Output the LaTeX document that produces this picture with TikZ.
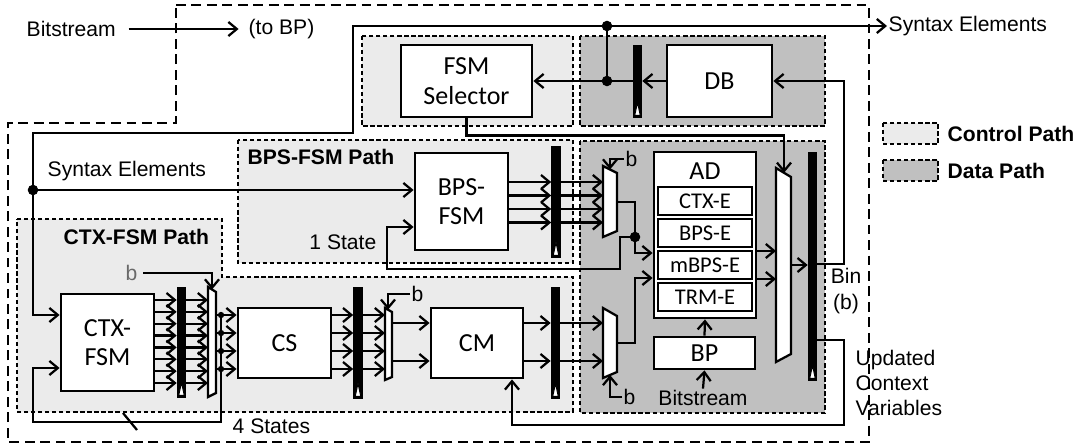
\documentclass[tikz,border=0pt]{standalone}
\usepackage{fontspec}
\setmainfont{Liberation Sans}
\newfontfamily\boxfont{Carlito}
\usetikzlibrary{arrows.meta}
\definecolor{ctrlgray}{RGB}{235,235,235}
\definecolor{datagray}{RGB}{192,192,192}
\definecolor{bgray}{RGB}{105,105,105}

\begin{document}
\begin{tikzpicture}[x=0.025cm, y=-0.025cm,
    >={Straight Barb[length=6pt,width=10pt]},
    wire/.style={line width=1.6pt},
    blk/.style={draw, line width=2pt, fill=white, inner sep=0pt, align=center, font=\boxfont\fontsize{18.5}{21}\selectfont},
    subblk/.style={draw, line width=1.5pt, fill=white, inner sep=0pt, minimum width=2.35cm, minimum height=0.7cm, font=\boxfont\fontsize{16}{18}\selectfont},
    regbar/.style={draw, fill=black, line width=0.6pt, inner sep=0pt, minimum width=0.22cm},
    clk/.style={draw, fill=white, line width=0.7pt},
    muxshape/.style={draw, fill=white, line width=1.6pt, line join=miter},
    jdot/.style={circle, fill=black, inner sep=0pt, minimum size=#1},
    jdot/.default=7.5pt,
    ctrlreg/.style={draw, fill=ctrlgray, line width=1pt, dash pattern=on 3pt off 2pt},
    datareg/.style={draw, fill=datagray, line width=1pt, dash pattern=on 3pt off 2pt},
    bigdash/.style={draw, line width=1.6pt, dash pattern=on 7pt off 4pt},
    lbl/.style={inner sep=1pt, font=\fontsize{15}{18}\selectfont},
    hdr/.style={inner sep=1pt, font=\bfseries\fontsize{15}{18}\selectfont},
  ]
  \useasboundingbox (0,0) rectangle (1081,447);

  % regions
  \draw[ctrlreg] (362,36) rectangle (573,126);
  \draw[datareg] (580,36) rectangle (825,126);
  \draw[ctrlreg] (238,140) rectangle (573,263);
  \draw[ctrlreg] (17,219) -- (222,219) -- (222,277) -- (573,277) -- (573,412) -- (17,412) -- cycle;
  \draw[datareg] (580,141) rectangle (825,413);
  \draw[bigdash] (176,5) -- (869,5) -- (869,442) -- (8,442) -- (8,123) -- (176,123) -- cycle;

  \node[hdr, anchor=west] (bpshdr) at (246,157) {BPS-FSM Path};
  \node[hdr, anchor=west] (ctxhdr) at (62,237) {CTX-FSM Path};

  % blocks
  \node[blk, minimum width=3.275cm, minimum height=1.8cm] (fsmsel) at (466.5,81) {FSM\\Selector};
  \node[blk, minimum width=2.625cm, minimum height=1.8cm] (db) at (719.5,81) {DB};
  \node[blk, minimum width=2.325cm, minimum height=2.425cm] (bpsfsm) at (461.5,201.5) {BPS-\\FSM};
  \node[blk, minimum width=2.325cm, minimum height=2.425cm] (ctxfsm) at (107.5,342.5) {CTX-\\FSM};
  \node[blk, minimum width=2.325cm, minimum height=1.75cm] (cs) at (284.5,343) {CS};
  \node[blk, minimum width=2.3cm, minimum height=1.75cm] (cm) at (477,343) {CM};
  \node[blk, minimum width=2.55cm, minimum height=4.15cm] (ad) at (705,235) {};
  \node[inner sep=0pt, font=\boxfont\fontsize{18.5}{21}\selectfont] (adlbl) at (705,171) {AD};
  \foreach \n/\t/\y in {ctxe/CTX-E/201, bpse/BPS-E/233, mbpse/mBPS-E/265, trme/TRM-E/297}
    \node[subblk] (\n) at (705,\y) {\t};
  \node[blk, minimum width=2.525cm, minimum height=0.8cm] (bp) at (704.5,353) {BP};

  % registers
  \node[regbar, minimum height=1.8cm] (ureg) at (637.5,81) {};
  \node[regbar, minimum height=2.775cm] (bpsreg) at (556,201.5) {};
  \node[regbar, minimum height=2.75cm] (ctxreg) at (181.5,342) {};
  \node[regbar, minimum height=2.775cm] (csreg) at (358,342.5) {};
  \node[regbar, minimum height=2.775cm] (cmreg) at (555.5,342.5) {};
  \node[regbar, minimum height=5.7cm] (binreg) at (812.5,266) {};
  \foreach \r in {ureg,bpsreg,ctxreg,csreg,cmreg,binreg}
    \draw[clk] ([shift={(-2.8,-2)}]\r.south) -- ([shift={(0,-15)}]\r.south) -- ([shift={(2.8,-2)}]\r.south) -- cycle;

  % muxes
  \draw[muxshape] (603,166) -- (617,173) -- (617,231) -- (603,237) -- cycle;
  \coordinate (bpsmux) at (603,202); \coordinate (bpsmuxo) at (617,202);
  \draw[muxshape] (603,308) -- (617,316) -- (617,372) -- (603,378) -- cycle;
  \coordinate (cmmux) at (603,343); \coordinate (cmmuxo) at (617,343);
  \draw[muxshape] (776,168) -- (791,177) -- (791,354) -- (776,362) -- cycle;
  \coordinate (binmux) at (776,265); \coordinate (binmuxo) at (791,265);
  \draw[muxshape] (208,287) -- (216,292) -- (216,393) -- (208,397) -- cycle;
  \coordinate (ctxmux) at (208,342); \coordinate (ctxmuxo) at (216,342);
  \draw[muxshape] (385,308) -- (392,312) -- (392,377) -- (385,380) -- cycle;
  \coordinate (csmux) at (385,344); \coordinate (csmuxo) at (392,344);

  % top signals
  \node[lbl, anchor=west] (bsin) at (25,29) {Bitstream};
  \node[lbl, anchor=west] (tobp) at (247,29) {(to BP)};
  \draw[wire,->] ([xshift=8pt]bsin.east) -- ([xshift=-6pt]tobp.west);
  \node[lbl, anchor=west] (synout) at (887,26) {Syntax Elements};
  \coordinate (j1) at (607,81); \coordinate (j2) at (607,26);
  \coordinate (sb1) at (353,26); \coordinate (sb2) at (33,133); \coordinate (j3) at (33,190);
  \draw[wire,->] (db.west) -- (ureg.east);
  \draw[wire,->] (ureg.west) -- (fsmsel.east);
  \draw[wire] (j1) -- (j2);
  \draw[wire,->] (j2) -- (synout.west);
  \draw[wire,->] (j2) -- (sb1) |- (sb2) -- (sb2 |- 0,315) -- (ctxfsm.west |- 0,315);
  \node[lbl, anchor=west] (synin) at (46,171) {Syntax Elements};
  \draw[wire,->] (j3) -- (bpsfsm.west |- j3);
  \node[jdot] (d1) at (j1) {};
  \node[jdot] (d2) at (j2) {};
  \node[jdot] (d3) at (j3) {};

  % BPS-FSM path
  \foreach \y in {182,195.5,209,222.5} {
    \draw[wire,->] (bpsfsm.east |- 0,\y) -- (bpsreg.west |- 0,\y);
    \draw[wire,->] (bpsreg.east |- 0,\y) -- (bpsmux |- 0,\y);
  }
  \node[lbl, anchor=west] (bbps) at (624,159) {b};
  \draw[wire,->] (bbps.west) -| (610,169.5);
  \coordinate (j4) at (635,237); \coordinate (k1) at (635,253);
  \coordinate (fb1) at (620,269); \coordinate (fb2) at (387,227);
  \draw[wire,->] (bpsmuxo) -| (k1) -- (ad.west |- k1);
  \draw[wire,->] (j4) -| (fb1) -| (fb2) -- (bpsfsm.west |- fb2);
  \node[jdot] (d4) at (j4) {};
  \node[lbl, anchor=east] (onest) at (378,242) {1 State};

  % data path
  \coordinate (k2) at (635,278);
  \draw[wire,->] (cmmuxo) -| (k2) -- (ad.west |- k2);
  \node[lbl, anchor=west] (bcm) at (622,397) {b};
  \draw[wire,->] (bcm.west) -| (610,375);
  \foreach \y in {251,279}
    \draw[wire,->] (ad.east |- 0,\y) -- (binmux |- 0,\y);
  \draw[wire,->] (binmuxo) -- (binreg.west |- binmuxo);
  \coordinate (k3) at (784,172.8);
  \draw[wire,->] (fsmsel.south) -- ++(0,17) -| (k3);
  \coordinate (k4) at (844,264); \coordinate (k5) at (844,340); \coordinate (k6) at (512,425);
  \draw[wire,->] (binreg.east |- k4) -- (k4) |- (db.east);
  \draw[wire,->] (binreg.east |- k5) -- (k5) |- (k6) -- (k6 |- cm.south);
  \node[lbl, align=center] (binlbl) at (846,291) {Bin\\(b)};
  \node[lbl, anchor=west, align=left] (updlbl) at (854,383) {Updated\\Context\\Variables};
  \draw[wire,->] (bp.north) -- (ad.south);
  \node[lbl] (bsbp) at (703,398) {Bitstream};
  \draw[wire,->] (bsbp.north) -- (bp.south);

  % CTX-FSM path
  \foreach \y in {323,361} {
    \draw[wire,->] (csmuxo |- 0,\y) -- (cm.west |- 0,\y);
    \draw[wire,->] (cm.east |- 0,\y) -- (cmreg.west |- 0,\y);
    \draw[wire,->] (cmreg.east |- 0,\y) -- (cmmux |- 0,\y);
  }
  \node[lbl, anchor=west] (bcs) at (410,294) {b};
  \draw[wire,->] (bcs.west) -| (388,309.7);
  \foreach \y [count=\i] in {315,333,351,369} {
    \draw[wire,->] (ctxmuxo |- 0,\y) -- (cs.west |- 0,\y);
    \draw[wire,->] (cs.east |- 0,\y) -- (csreg.west |- 0,\y);
    \draw[wire,->] (csreg.east |- 0,\y) -- (csmux |- 0,\y);
    \node[jdot=4.5pt] (cd\i) at (221,\y) {};
  }
  \coordinate (fb3) at (221,315); \coordinate (fb4) at (221,422); \coordinate (fb5) at (33,368);
  \draw[wire,->] (fb3) -- (fb4) -| (fb5) -- (ctxfsm.west |- fb5);
  \draw[wire] (123,413) -- (137,430);
  \node[lbl, anchor=west] (fourst) at (231,426) {4 States};
  \foreach \i in {0,...,7} {
    \pgfmathsetmacro\y{300+\i*11.86}
    \draw[wire,->] (ctxfsm.east |- 0,\y) -- (ctxreg.west |- 0,\y);
    \draw[wire,->] (ctxreg.east |- 0,\y) -- (ctxmux |- 0,\y);
  }
  \node[lbl, anchor=east, text=bgray] (bctx) at (139,273) {b};
  \draw[wire,->] ([xshift=3pt]bctx.east) -| (212,289.5);

  % legend
  \draw[ctrlreg] (883,123) rectangle (938,144);
  \node[hdr, anchor=west] (lgc) at (946,134) {Control Path};
  \draw[datareg] (883,160) rectangle (938,181);
  \node[hdr, anchor=west] (lgd) at (946,171) {Data Path};
\end{tikzpicture}
\end{document}
